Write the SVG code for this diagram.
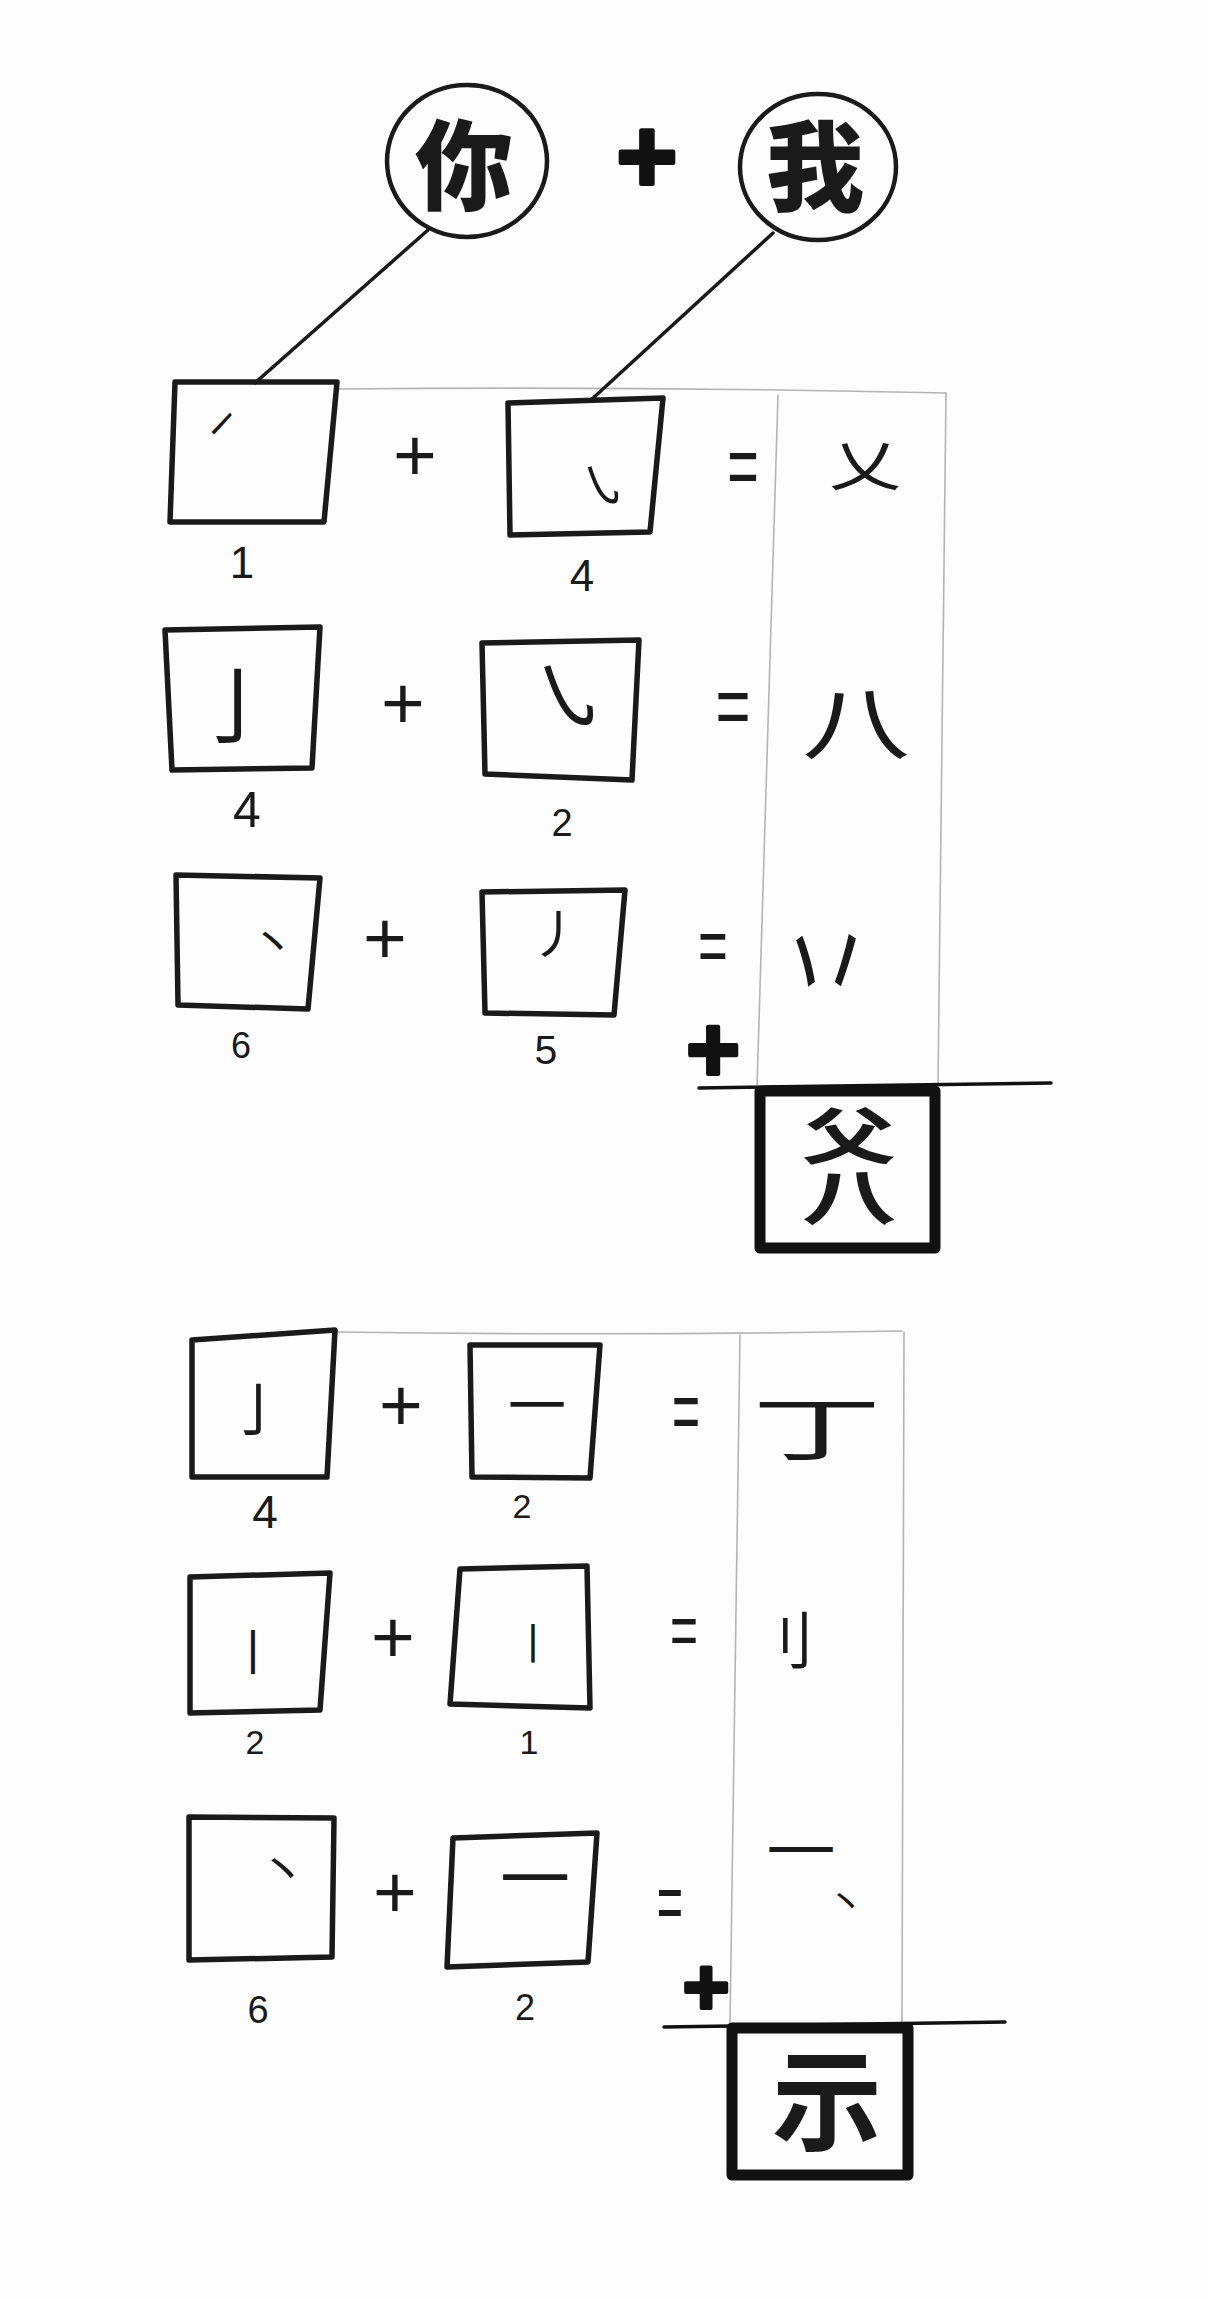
<svg xmlns="http://www.w3.org/2000/svg" width="1208" height="2299" viewBox="0 0 1208 2299">
<style>
.bg{fill:#fdfdfd}
.box{fill:none;stroke:#1a1a1a;stroke-width:5.5;stroke-linejoin:round;stroke-linecap:round}
.rbox{fill:none;stroke:#111;stroke-width:11;stroke-linejoin:round}
.circ{fill:none;stroke:#1a1a1a;stroke-width:4.5}
.con{fill:none;stroke:#1a1a1a;stroke-width:3.5;stroke-linecap:round}
.grid{fill:none;stroke:#b4b4b4;stroke-width:1.6;stroke-linecap:round}
.sum{fill:none;stroke:#111;stroke-width:3.5;stroke-linecap:round}
.cjk{font-family:"Noto Sans CJK SC","Noto Sans CJK JP",sans-serif;fill:#1a1a1a;text-anchor:middle}
.big{font-weight:900}
.res{font-weight:700}
.num{font-family:"Liberation Sans",Arial,sans-serif;fill:#1a1a1a;text-anchor:middle}
.op{font-family:"Liberation Sans",Arial,sans-serif;fill:#1a1a1a;text-anchor:middle;font-size:75px}
.bop{font-family:"Liberation Sans",Arial,sans-serif;fill:#111;stroke:#111;stroke-width:4;stroke-linejoin:round;text-anchor:middle;font-weight:bold}
.eq{font-family:"Liberation Sans",Arial,sans-serif;fill:#1a1a1a;text-anchor:middle;font-size:60px}
</style>
<rect class="bg" x="0" y="0" width="1208" height="2299"/>

<g id="table-lines">
<path class="grid" d="M337,389 Q640,386 946,393"/>
<path class="grid" d="M778,395 L757,1087"/>
<path class="grid" d="M946,393 L938,1085"/>
<path class="grid" d="M337,1332 Q620,1336 902,1331"/>
<path class="grid" d="M740,1335 L730,2025"/>
<path class="grid" d="M904,1332 L902,2022"/>
<path class="sum" d="M699,1088 L1051,1083"/>
<path class="sum" d="M664,2027 L1005,2022"/>
</g>

<g id="connectors">
<path class="con" d="M428,230 L255,383"/>
<path class="con" d="M773,233 L591,400"/>
</g>

<g id="node-ni">
<ellipse class="circ" cx="467" cy="161" rx="80" ry="76"/>
<text class="cjk big" x="464" y="202" font-size="98">你</text>
</g>
<text id="top-plus" class="bop" x="647" y="192" font-size="105">+</text>
<g id="node-wo">
<ellipse class="circ" cx="818" cy="167" rx="78" ry="73"/>
<text class="cjk big" x="815" y="203" font-size="98">我</text>
</g>

<!-- row 1 -->
<g id="box-r1a">
<path class="box" d="M175,382 L337,382 L324,522 L170,522 Z"/>
<text class="cjk" x="222" y="440" font-size="42" transform="rotate(-32 222 425)">㇀</text>
<text class="num" x="242" y="578" font-size="44">1</text>
</g>
<text class="op" x="415" y="481">+</text>
<g id="box-r1b">
<path class="box" d="M508,403 L663,398 L650,532 L510,535 Z"/>
<text class="cjk" x="602" y="504" font-size="50" transform="rotate(-15 602 486)">㇂</text>
<text class="num" x="582" y="591" font-size="44">4</text>
</g>
<text class="eq" transform="translate(743,467) scale(0.9,1.45)" x="0" y="20">=</text>
<text id="res-r1" class="cjk" transform="translate(865,465) scale(1.1,0.85)" x="0" y="25" font-size="65">乂</text>

<!-- row 2 -->
<g id="box-r2a">
<path class="box" d="M165,630 L320,627 L312,768 L172,770 Z"/>
<text class="cjk" x="237" y="737" font-size="84">亅</text>
<text class="num" x="247" y="827" font-size="50">4</text>
</g>
<text class="op" x="403" y="729">+</text>
<g id="box-r2b">
<path class="box" d="M482,643 L639,640 L632,780 L485,774 Z"/>
<text class="cjk" x="572" y="725" font-size="80" transform="rotate(-15 572 715)">㇂</text>
<text class="num" x="562" y="836" font-size="38">2</text>
</g>
<text class="eq" transform="translate(733,707) scale(1,1.45)" x="0" y="20">=</text>
<text id="res-r2" class="cjk" transform="translate(856,722) scale(1.2,0.9)" x="0" y="34" font-size="90">八</text>

<!-- row 3 -->
<g id="box-r3a">
<path class="box" d="M176,875 L320,878 L308,1009 L178,1005 Z"/>
<text class="cjk" x="273" y="960" font-size="45">丶</text>
<text class="num" x="241" y="1058" font-size="36">6</text>
</g>
<text class="op" x="385" y="964">+</text>
<g id="box-r3b">
<path class="box" d="M482,892 L625,890 L614,1015 L485,1013 Z"/>
<text class="cjk" x="556" y="954" font-size="52">丿</text>
<text class="num" x="546" y="1064" font-size="41">5</text>
</g>
<text class="eq" transform="translate(713,946) scale(0.85,1.3)" x="0" y="20">=</text>
<text id="res-r3" class="cjk" transform="translate(826,955) scale(1.05,1.9)" x="0" y="37" font-size="85">丷</text>
<text id="sum-plus-1" class="bop" x="713" y="1081" font-size="92">+</text>

<g id="result-1">
<rect class="rbox" x="760" y="1091" width="175" height="157"/>
<text class="cjk res" writing-mode="vertical-rl" transform="translate(849,1166) scale(1.05,0.68)" x="0" y="0" font-size="90">父八</text>
</g>

<!-- row 4 -->
<g id="box-r4a">
<path class="box" d="M192,1340 L335,1330 L327,1477 L192,1477 Z"/>
<text class="cjk" x="258" y="1431" font-size="58">亅</text>
<text class="num" x="265" y="1528" font-size="46">4</text>
</g>
<text class="op" x="401" y="1431">+</text>
<g id="box-r4b">
<path class="box" d="M470,1345 L600,1345 L590,1478 L472,1477 Z"/>
<text class="cjk" x="537" y="1427" font-size="58">一</text>
<text class="num" x="522" y="1518" font-size="34">2</text>
</g>
<text class="eq" transform="translate(686,1412) scale(0.8,1.45)" x="0" y="20">=</text>
<text id="res-r4" class="cjk" transform="translate(817,1428) scale(1.3,0.7)" x="0" y="38" font-size="100">丁</text>

<!-- row 5 -->
<g id="box-r5a">
<path class="box" d="M190,1577 L330,1573 L320,1710 L190,1713 Z"/>
<text class="cjk" x="253" y="1670" font-size="48">丨</text>
<text class="num" x="255" y="1754" font-size="34">2</text>
</g>
<text class="op" x="393" y="1663">+</text>
<g id="box-r5b">
<path class="box" d="M460,1569 L587,1566 L590,1708 L450,1704 Z"/>
<text class="cjk" x="533" y="1659" font-size="42">丨</text>
<text class="num" x="529" y="1754" font-size="34">1</text>
</g>
<text class="eq" transform="translate(684,1630) scale(0.8,1.25)" x="0" y="20">=</text>
<text id="res-r5" class="cjk" x="783" y="1664" font-size="62">刂</text>

<!-- row 6 -->
<g id="box-r6a">
<path class="box" d="M189,1817 L334,1818 L332,1957 L189,1960 Z"/>
<text class="cjk" x="283" y="1889" font-size="50">丶</text>
<text class="num" x="258" y="2023" font-size="38">6</text>
</g>
<text class="op" x="395" y="1918">+</text>
<g id="box-r6b">
<path class="box" d="M453,1838 L597,1833 L588,1962 L447,1967 Z"/>
<text class="cjk" x="535" y="1905" font-size="70">一</text>
<text class="num" x="525" y="2020" font-size="36">2</text>
</g>
<text class="eq" transform="translate(670,1903) scale(0.75,1.35)" x="0" y="20">=</text>
<g id="res-r6">
<text class="cjk big" transform="translate(801,1849) scale(1,0.45)" x="0" y="26" font-size="68">一</text>
<text class="cjk" x="846" y="1916" font-size="38">丶</text>
</g>
<text id="sum-plus-2" class="bop" x="706" y="2014" font-size="80">+</text>

<g id="result-2">
<rect class="rbox" x="732" y="2028" width="176" height="147" stroke-width="12"/>
<text class="cjk res" x="827" y="2142" font-size="110">示</text>
</g>
</svg>
